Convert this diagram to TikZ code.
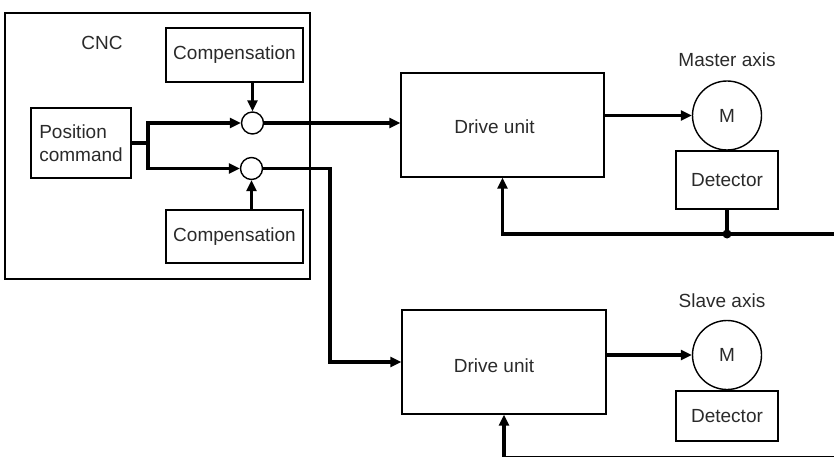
\documentclass[tikz,border=0pt]{standalone}
\usepackage{fontspec}
\setmainfont{Liberation Sans}
\usetikzlibrary{arrows.meta,calc}
\definecolor{txt}{HTML}{2A2A2A}
\tikzset{
  box/.style={draw=black, line width=1.4pt, rectangle, inner sep=0pt, text=txt,
    font=\fontsize{19}{23}\selectfont},
  sumc/.style={draw=black, line width=1.4pt, circle, inner sep=0pt, minimum size=22pt},
  motor/.style={draw=black, line width=1.4pt, circle, inner sep=0pt, minimum size=69pt,
    text=txt, font=\fontsize{19}{23}\selectfont},
  lbl/.style={text=txt, inner sep=0pt, font=\fontsize{19}{23}\selectfont},
  wire/.style={line width=3.1pt, draw=black},
  arr/.style={wire, -{Triangle[length=11pt,width=10pt]}},
}
\begin{document}
\begin{tikzpicture}[x=1pt,y=-1pt]
\useasboundingbox (0,0) rectangle (834,457);
% CNC frame
\node[box, minimum width=305pt, minimum height=266pt] (cnc) at (157.5,146) {};
\node[lbl] (cnclbl) at (102,43) {CNC};
\node[box, minimum width=137pt, minimum height=54pt] (comp1) at (234.5,55) {Compensation};
\node[box, minimum width=137pt, minimum height=53pt] (comp2) at (234.5,236.5) {Compensation};
\node[box, minimum width=100pt, minimum height=70pt, align=left] (pos) at (81,143) {Position\\command};
\node[sumc] (s1) at (252.5,123) {};
\node[sumc] (s2) at (251.5,168.5) {};
% drive units
\node[box, minimum width=203pt, minimum height=104pt,
  label={[lbl, xshift=-8pt, yshift=-2pt]center:Drive unit}] (du1) at (502.5,125) {};
\node[box, minimum width=204pt, minimum height=104pt,
  label={[lbl, xshift=-10pt, yshift=-4pt]center:Drive unit}] (du2) at (504,362) {};
% motors
\node[motor] (m1) at (727,115.5) {M};
\node[motor] (m2) at (727,355) {M};
\node[lbl] (mlbl) at (727,60) {Master axis};
\node[lbl] (slbl) at (722,301) {Slave axis};
\node[box, minimum width=102pt, minimum height=58pt] (det1) at (727,180) {Detector};
\node[box, minimum width=102pt, minimum height=50pt] (det2) at (727,416) {Detector};
% connectors inside CNC
\coordinate (br) at (148,143);
\draw[wire] (pos.east) -- (br);
\draw[arr] (br) |- (s1.west);
\draw[arr] (br) |- (s2.west);
\draw[arr] (s1.north |- comp1.south) -- (s1.north);
\draw[arr] (s2.south |- comp2.north) -- (s2.south);
% to drive units
\draw[arr] (s1.east) -- (s1.east -| du1.west);
\coordinate (k2) at (330,168.5);
\draw[arr] (s2.east) -- (k2) |- (du2.west);
% to motors
\draw[arr] (du1.east |- m1.west) -- (m1.west);
\draw[arr] (du2.east |- m2.west) -- (m2.west);
% feedback
\coordinate (j1) at (727,234);
\coordinate (e1) at (834,234);
\draw[wire] (det1.south) -- (j1);
\draw[arr] (e1) -| (du1.south);
\fill (j1) circle (4.5pt);
\coordinate (e2) at (834,457.5);
\draw[arr] (e2) -| (du2.south);
\end{tikzpicture}
\end{document}
